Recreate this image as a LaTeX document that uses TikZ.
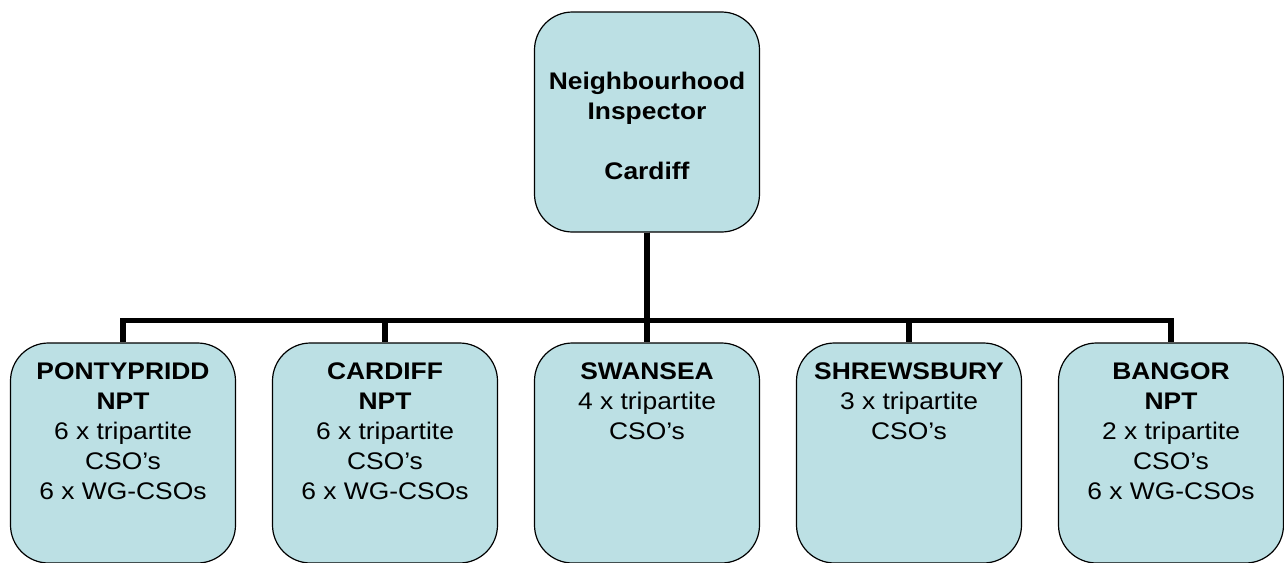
\documentclass[tikz,border=0pt]{standalone}
\usepackage{fontspec}
\setmainfont{Liberation Sans}[FakeStretch=1.1]
\definecolor{unitblue}{RGB}{188,224,228}
\newcommand{\unittext}[1]{\parbox[c][180pt][t]{215pt}{\centering #1}}
\begin{document}
\begin{tikzpicture}[x=1pt,y=1pt,
        font=\fontsize{24}{30}\selectfont,
        level distance=331pt,
        sibling distance=262pt,
        root/.style={draw,fill=unitblue,line width=1.2pt,rounded corners=38pt,
          minimum width=225pt,minimum height=220pt,align=center,font=\fontsize{24}{30}\selectfont\bfseries},
        unit/.style={draw,fill=unitblue,line width=1.2pt,rounded corners=38pt,
          minimum width=225pt,minimum height=220pt,inner xsep=5pt,inner ysep=20pt},
        edge from parent/.style={draw,black,line width=5.5pt},
        edge from parent path={(\tikzparentnode.south) -- ++(0,-88) -| (\tikzchildnode.north)}]
        \useasboundingbox (0,0) rectangle (1284,-562);
        \node[root] (insp) at (647,-122) {\rule{0pt}{25pt}Neighbourhood\\Inspector\\[30pt]Cardiff}
          child {node[unit] (pont) {\unittext{\textbf{PONTYPRIDD}\\\textbf{NPT}\\6 x tripartite\\CSO’s\\6 x WG-CSOs}}}
          child {node[unit] (card) {\unittext{\textbf{CARDIFF}\\\textbf{NPT}\\6 x tripartite\\CSO’s\\6 x WG-CSOs}}}
          child {node[unit] (swan) {\unittext{\textbf{SWANSEA}\\4 x tripartite\\CSO’s}}}
          child {node[unit] (shrew) {\unittext{\textbf{SHREWSBURY}\\3 x tripartite\\CSO’s}}}
          child {node[unit] (bang) {\unittext{\textbf{BANGOR}\\\textbf{NPT}\\2 x tripartite\\CSO’s\\6 x WG-CSOs}}};
      \end{tikzpicture}
\end{document}
